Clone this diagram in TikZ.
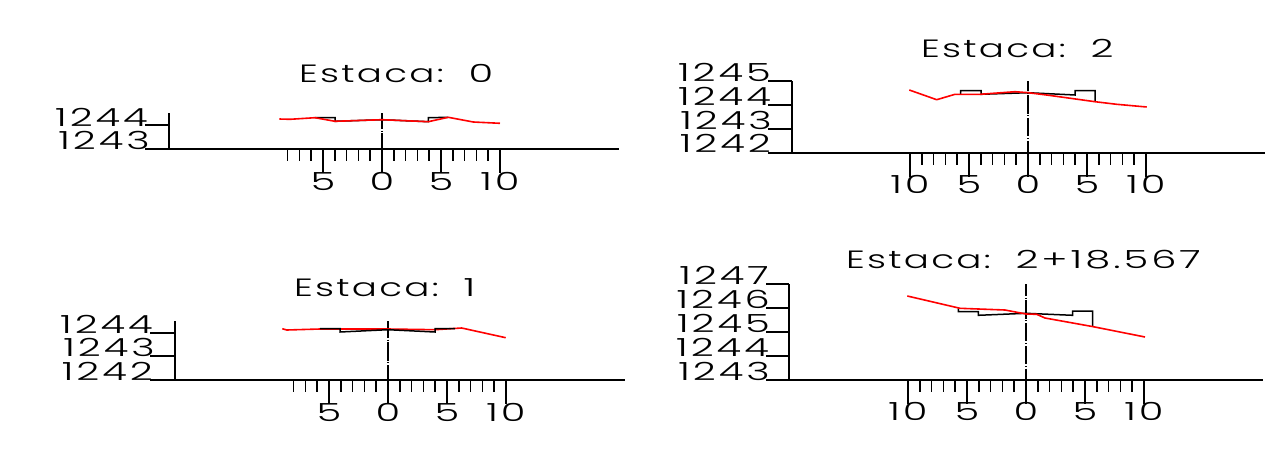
\documentclass[tikz,border=0pt]{standalone}
\usepackage{fontspec}
\newfontfamily\cadfont[FakeStretch=1.6,LetterSpace=12]{Poppins Light}
\newfontfamily\cadhead[FakeStretch=1.49,LetterSpace=9]{Poppins Light}
\definecolor{prof}{RGB}{255,0,0}
\tikzset{
  x=1pt,y=-1pt,
  ink/.style={line width=1.5pt,black},
  ground/.style={line width=1.6pt,prof,line join=round},
  road/.style={line width=1.5pt,black,line join=miter},
  axisno/.style={font=\cadfont\fontsize{25}{25}\selectfont,inner sep=0pt,text=black},
  lev/.style={axisno,anchor=base east},
  xno/.style={axisno,anchor=base},
  heading/.style={font=\cadhead\fontsize{25}{25}\selectfont,inner sep=0pt,text=black,anchor=base west},
}
\newcommand{\hnum}[1]{{\cadfont\fontsize{25}{25}\selectfont #1}}
% #1 axis y, #2 centre x, #3 axis start, #4 axis end, #5 first minor unit, #6 tick numbers, #7 y of label base
\newcommand{\profaxis}[7]{%
  \draw[ink] (#3,#1) -- (#4,#1);
  \foreach \u in {#5,...,10}{%
    \pgfmathsetmacro{\tx}{#2+11.8*\u}%
    \pgfmathtruncatemacro{\ism}{mod(abs(\u),5)==0}%
    \ifnum\ism=1 \draw[ink] (\tx,#1) -- (\tx,#1+24);%
    \else \draw[ink] (\tx,#1) -- (\tx,#1+12);\fi
  }%
  \foreach \u/\t in {#6}{%
    \pgfmathsetmacro{\tx}{#2+11.8*\u}%
    \node[xno] at (\tx,#7) {\t};
  }%
}
\begin{document}
\begin{tikzpicture}
\useasboundingbox (0,0) rectangle (1273,450);
% ---------- Estaca 0
\profaxis{149}{382}{145}{619}{-8}{-5/5,0/0,5/5,10/10}{190}
\draw[ink] (169,113) -- (169,149);
\draw[ink] (145,125) -- (169,125);
\node[lev] (a1) at (148,126) {1244};
\node[lev] (a2) at (150,149.5) {1243};
\node[heading] (at) at (299,82) {Estaca:\ \ \hnum{0}};
\draw[ink,dash pattern=on 18.2pt off 1.8pt on 1pt off 1.8pt,dash phase=2.5pt] (382,113) -- (382,149);
\draw[road] (315,117.7) -- (335,117.7) -- (335,121.3) -- (382,119.7) -- (428.3,121.7) -- (428.3,117.7) -- (448.3,117.3);
\draw[ground] (279.3,119) -- (290,119.3) -- (315,117.7) -- (335,121.3) -- (382,119.7) -- (428.3,121.7) -- (448.3,117.3) -- (473.3,122) -- (500,123.3);
% ---------- Estaca 2
\profaxis{153}{1028}{768}{1265}{-10}{-10/10,-5/5,0/0,5/5,10/10}{193}
\draw[ink] (792,81) -- (792,153);
\foreach \yy in {81,105,129} \draw[ink] (768,\yy) -- (792,\yy);
\node[lev] (b1) at (771,81) {1245};
\node[lev] (b2) at (771,105) {1244};
\node[lev] (b3) at (772,129) {1243};
\node[lev] (b4) at (771,152.5) {1242};
\node[heading] (bt) at (921,57) {Estaca:\ \ \hnum{2}};
\draw[ink,dash pattern=on 18.2pt off 1.8pt on 1pt off 1.8pt,dash phase=8.5pt] (1028,81) -- (1028,153);
\draw[road] (960.7,94.3) -- (960.7,90.7) -- (981,90.7) -- (981,94.3) -- (1028,92.7) -- (1075,95) -- (1075,90.7) -- (1095,90.7) -- (1095,101.7);
\draw[ground] (909.3,90) -- (936.7,99.7) -- (955,94.3) -- (980,94.3) -- (1015,91.7) -- (1028.3,92.7) -- (1046.7,95) -- (1095,101.7) -- (1116.7,104.3) -- (1146.7,107);
% ---------- Estaca 1
\profaxis{380}{388}{150}{625}{-8}{-5/5,0/0,5/5,10/10}{421}
\draw[ink] (175,321) -- (175,380);
\foreach \yy in {333,356} \draw[ink] (150,\yy) -- (175,\yy);
\node[lev] (c1) at (153,333) {1244};
\node[lev] (c2) at (155,356.5) {1243};
\node[lev] (c3) at (153,380) {1242};
\node[heading] (ct) at (294,296) {Estaca:\ \ \hnum{1}};
\draw[ink,dash pattern=on 18.2pt off 1.8pt on 1pt off 1.8pt,dash phase=1.5pt] (388,321) -- (388,380);
\draw[ground] (282.3,328.7) -- (286.7,330) -- (320,329) -- (388,329) -- (435,329.7) -- (461.7,328) -- (505.7,337.7);
\draw[road] (320,328.7) -- (340,328.7) -- (340,332) -- (388,329.7) -- (435,332) -- (435,328.7) -- (455,328.7);
% ---------- Estaca 2+18.567
\profaxis{380}{1026}{766}{1263}{-10}{-10/10,-5/5,0/0,5/5,10/10}{420}
\draw[ink] (789,284) -- (789,380);
\foreach \yy in {284,308,332,356} \draw[ink] (766,\yy) -- (789,\yy);
\node[lev] (d1) at (769,284) {1247};
\node[lev] (d2) at (770,308) {1246};
\node[lev] (d3) at (770,332) {1245};
\node[lev] (d4) at (769,356) {1244};
\node[lev] (d5) at (770,380) {1243};
\node[heading] (dt) at (846,268) {Estaca:\ \ \hnum{2+18.567}};
\draw[ink,dash pattern=on 18.2pt off 1.8pt on 1pt off 1.8pt,dash phase=6.5pt] (1026,284) -- (1026,380);
\draw[road] (958.3,308.3) -- (958.3,311.7) -- (978.3,311.7) -- (978.3,315.3) -- (1026,313.3) -- (1072.7,315.3) -- (1072.7,311) -- (1092.7,311) -- (1092.7,326.7);
\draw[ground] (907.3,296) -- (960,308.3) -- (1005,310) -- (1026,314) -- (1036.7,314.3) -- (1045,318) -- (1093.3,326.7) -- (1145,337);
\end{tikzpicture}
\end{document}
